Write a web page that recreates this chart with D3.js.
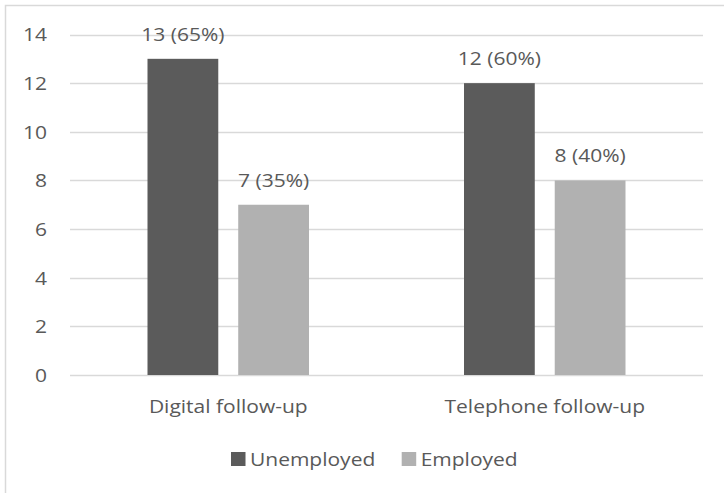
<!DOCTYPE html>
<html><head><meta charset="utf-8">
<script src="https://cdn.jsdelivr.net/npm/d3@7"></script>
<style>body{margin:0;background:#fff}svg{display:block}text{font-family:"Open Sans","Liberation Sans",sans-serif;fill:#595959}</style>
</head><body><svg id="c" width="724" height="493"></svg>
<script>
const categories = ["Digital follow-up", "Telephone follow-up"];
const seriesNames = ["Unemployed", "Employed"];
const unemployed = [13, 12];
const employed = [7, 8];
const unemployedLabels = ["13 (65%)", "12 (60%)"];
const employedLabels = ["7 (35%)", "8 (40%)"];
const yTicks = [0, 2, 4, 6, 8, 10, 12, 14];
const colors = ["#5b5b5b", "#b1b1b1"];

const FS = 17.5, SX = 1.2;
const svg = d3.select("#c");
svg.append("rect").attr("x",5.5).attr("y",5.5).attr("width",740).attr("height",500)
  .attr("fill","none").attr("stroke","#d9d9d9").attr("stroke-width",1.5);

const plotLeft = 70, plotRight = 703, plotTop = 34.5, plotBottom = 375;
const y = d3.scaleLinear().domain([0,14]).range([plotBottom, plotTop]);
const x0 = d3.scaleBand().domain(categories).range([plotLeft, plotRight]).paddingInner(0).paddingOuter(0);
const x1 = d3.scaleBand().domain(seriesNames).range([77.5, x0.bandwidth()-77.5]).paddingInner(0.22).paddingOuter(0);

// gridlines
svg.append("g").selectAll("line").data(yTicks).join("line")
  .attr("x1",plotLeft).attr("x2",plotRight)
  .attr("y1",d=>Math.round(y(d))+0.5).attr("y2",d=>Math.round(y(d))+0.5)
  .attr("stroke","#d9d9d9").attr("stroke-width",1.3);

// y axis labels
const yAxis = d3.axisLeft(y).tickValues(yTicks).tickSize(0).tickPadding(0);
const ya = svg.append("g").attr("transform",`translate(47,0)`).call(yAxis);
ya.select(".domain").remove();
ya.selectAll("text").attr("font-size",FS).attr("dy","0.36em")
  .attr("transform",`scale(${SX},1)`)
  .style("fill","#595959").style("font-family","'Open Sans','Liberation Sans',sans-serif");

const series = [unemployed, employed];
const labels = [unemployedLabels, employedLabels];
seriesNames.forEach((s, si) => {
  const grp = svg.append("g");
  grp.selectAll("rect").data(categories).join("rect")
    .attr("x", (c)=>x0(c)+x1(s))
    .attr("width", x1.bandwidth())
    .attr("y", (c,i)=>y(series[si][i]))
    .attr("height", (c,i)=>y(0)-y(series[si][i]))
    .attr("fill", colors[si]);
  grp.selectAll("text").data(categories).join("text")
    .attr("transform", (c,i)=>`translate(${x0(c)+x1(s)+x1.bandwidth()/2},${y(series[si][i]) - 18}) scale(${SX},1)`)
    .attr("text-anchor","middle").attr("font-size",FS)
    .text((c,i)=>labels[si][i]);
});

// category axis labels
const xAxis = d3.axisBottom(x0).tickSize(0).tickPadding(0);
const xa = svg.append("g").attr("transform",`translate(0,413)`).call(xAxis);
xa.select(".domain").remove();
xa.selectAll("text").attr("font-size",FS).attr("y",0).attr("dy",0)
  .attr("transform",`scale(${SX},1)`)
  .style("fill","#595959").style("font-family","'Open Sans','Liberation Sans',sans-serif");

// legend
const legendX = [231, 401.7];
const leg = svg.append("g");
seriesNames.forEach((s, i) => {
  leg.append("rect").attr("x",legendX[i]).attr("y",452).attr("width",14.5).attr("height",14).attr("fill",colors[i]);
  leg.append("text").attr("transform",`translate(${legendX[i]+19},465.7) scale(${SX},1)`)
    .attr("font-size",FS).text(s);
});
</script></body></html>
